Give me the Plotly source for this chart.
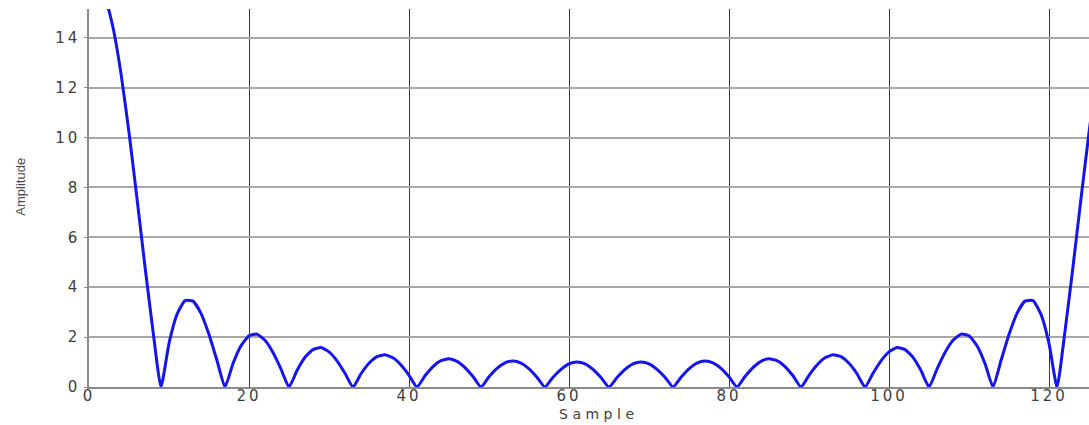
import plotly.graph_objects as go

# Sample index (1-based) and amplitude values
samples = list(range(1, 129))
amplitude = [
    16.00, 15.59, 14.41, 12.56, 10.20, 7.55, 4.82, 2.24,
    0.00, 1.75, 2.91, 3.46, 3.44, 2.95, 2.10, 1.06,
    0.00, 0.94, 1.65, 2.05, 2.12, 1.87, 1.38, 0.72,
    0.00, 0.66, 1.19, 1.50, 1.58, 1.41, 1.05, 0.55,
    0.00, 0.53, 0.95, 1.22, 1.29, 1.17, 0.88, 0.47,
    0.00, 0.45, 0.82, 1.06, 1.13, 1.03, 0.78, 0.42,
    0.00, 0.41, 0.75, 0.97, 1.04, 0.96, 0.73, 0.39,
    0.00, 0.39, 0.71, 0.93, 1.00, 0.93, 0.71, 0.38,
    0.00, 0.38, 0.71, 0.93, 1.00, 0.93, 0.71, 0.39,
    0.00, 0.39, 0.73, 0.96, 1.04, 0.97, 0.75, 0.41,
    0.00, 0.42, 0.78, 1.03, 1.13, 1.06, 0.82, 0.45,
    0.00, 0.47, 0.88, 1.17, 1.29, 1.22, 0.95, 0.53,
    0.00, 0.55, 1.05, 1.41, 1.58, 1.50, 1.19, 0.66,
    0.00, 0.72, 1.38, 1.87, 2.12, 2.05, 1.65, 0.94,
    0.00, 1.06, 2.10, 2.95, 3.44, 3.46, 2.91, 1.75,
    0.00, 2.24, 4.82, 7.55, 10.20, 12.56, 14.41, 15.59,
]
x_ticks = [0, 20, 40, 60, 80, 100, 120]
x_tick_labels = ["0", "20", "40", "60", "80", "100", "120"]
y_ticks = [0, 2, 4, 6, 8, 10, 12, 14]
y_tick_labels = ["0", "2", "4", "6", "8", "10", "12", "14"]
x_title = "Sample"
y_title = "Amplitude"

def wide(s, sp):
    return f'<span style="letter-spacing:{sp}px">{s}</span>'

fig = go.Figure()
fig.add_trace(go.Scatter(
    x=samples, y=amplitude, mode="lines",
    line=dict(color="#1414f0", width=3, shape="spline", smoothing=0.5),
    showlegend=False,
))

font_fam = "DejaVu Sans, Arial, sans-serif"
tick_col = "#3e3e3e"
fig.update_layout(
    width=1089, height=425,
    margin=dict(l=89, r=0, t=9, b=38, autoexpand=False),
    paper_bgcolor="white", plot_bgcolor="white",
    font=dict(family=font_fam, color="#444444"),
    xaxis=dict(
        range=[0, 125], tickvals=x_ticks,
        ticktext=[wide(t, 3) for t in x_tick_labels],
        showgrid=True, gridcolor="#3c3c3c", gridwidth=1.3,
        zeroline=False, showline=True, linecolor="#8a8a8a", linewidth=1.5,
        ticks="", ticklabelstandoff=-6, automargin=False,
        tickfont=dict(size=15, color=tick_col, family=font_fam),
    ),
    yaxis=dict(
        range=[0, 15.15], tickvals=y_ticks,
        ticktext=[wide(t, 3) for t in y_tick_labels],
        showgrid=True, gridcolor="#a8a8a8", gridwidth=1.5,
        zeroline=False, showline=True, linecolor="#8a8a8a", linewidth=1.5,
        ticks="outside", ticklen=3, tickcolor="#8a8a8a",
        ticklabelstandoff=1, automargin=False,
        tickfont=dict(size=15, color=tick_col, family=font_fam),
    ),
    annotations=[
        dict(text=wide(x_title, 4.5), xref="paper", yref="paper",
             x=0.510, y=-0.071, xanchor="center", yanchor="middle",
             showarrow=False, font=dict(size=14, color=tick_col, family=font_fam)),
        dict(text=y_title, xref="paper", yref="paper",
             x=-0.068, y=0.53, xanchor="center", yanchor="middle", textangle=-90,
             showarrow=False, font=dict(size=13, color="#4a4a4a", family="Liberation Sans, Arial, sans-serif")),
    ],
)

fig.write_html(
    "out.html",
    config={"displayModeBar": False},
    post_script="document.body.style.margin='0';document.body.style.overflow='hidden';",
)
